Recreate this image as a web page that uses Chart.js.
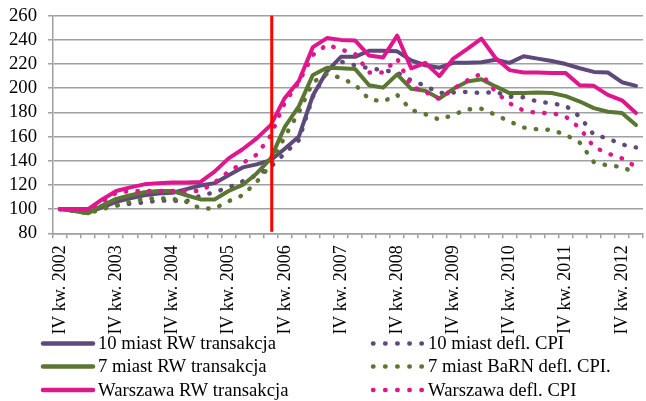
<!DOCTYPE html>
<html><head><meta charset="utf-8">
<script src="https://cdn.jsdelivr.net/npm/chart.js@4.4.0/dist/chart.umd.min.js"></script>
<style>html,body{margin:0;padding:0;background:#fff;}canvas{display:block;}</style>
</head><body>
<canvas id="c" width="646" height="401"></canvas>
<script>
const categories = [
  'IV kw. 2002',
  'I kw. 2003','II kw. 2003','III kw. 2003','IV kw. 2003',
  'I kw. 2004','II kw. 2004','III kw. 2004','IV kw. 2004',
  'I kw. 2005','II kw. 2005','III kw. 2005','IV kw. 2005',
  'I kw. 2006','II kw. 2006','III kw. 2006','IV kw. 2006',
  'I kw. 2007','II kw. 2007','III kw. 2007','IV kw. 2007',
  'I kw. 2008','II kw. 2008','III kw. 2008','IV kw. 2008',
  'I kw. 2009','II kw. 2009','III kw. 2009','IV kw. 2009',
  'I kw. 2010','II kw. 2010','III kw. 2010','IV kw. 2010',
  'I kw. 2011','II kw. 2011','III kw. 2011','IV kw. 2011',
  'I kw. 2012','II kw. 2012','III kw. 2012','IV kw. 2012',
  'I kw. 2013'
];
const shownTickPrefix = 'IV kw.';
const breakQuarter = 'III kw. 2006';

const miast10RW = [100, 99, 97, 101.5, 106, 109, 111.5, 113, 113.5, 116.5, 119.5, 121.5, 128, 134.5, 137, 140.5, 150, 160, 194, 214, 226, 226, 231, 231, 230.5, 223, 219, 217, 221, 221, 221.5, 223.5, 221, 226.5, 224.5, 222.5, 220, 216.5, 213.5, 213, 205, 202];
const miast10CPI = [100, 98.5, 97, 101, 103, 104.5, 105.5, 107, 107, 106.5, 111, 114, 118, 123, 128, 135, 146, 157, 193, 213.5, 222, 219, 216.5, 215, 213, 206.5, 202, 196, 196.5, 197, 196, 197, 193, 192.5, 189, 187.5, 185.5, 176.5, 161.5, 158.5, 153.5, 151];
const miast7RW = [100, 98.5, 96.5, 103, 108.5, 111.5, 114, 115, 115, 111.5, 108, 108, 115, 120, 129.5, 142, 168, 185, 211, 217, 216.5, 216, 202.5, 200.5, 211.5, 199.5, 198, 191.5, 199.5, 205.5, 207.5, 201.5, 196, 196, 196.5, 196, 193.5, 189, 183.5, 180.5, 179.5, 169.5];
const miast7CPI = [100, 98.5, 96.5, 100, 103, 106, 108.5, 109, 108.5, 106, 100.5, 100.5, 106.5, 111.5, 122.5, 136.5, 160, 180, 205, 212, 208.5, 203, 191, 189, 194.5, 182, 178.5, 174, 178, 182.5, 183, 178, 172.5, 167.5, 166, 165.5, 161.5, 155, 139, 136, 135, 129.5];
const warszawaRW = [100, 100, 100, 108, 115, 118, 120.5, 121.5, 122, 122, 122.5, 131, 142, 149.5, 158.5, 169.5, 192, 206, 234, 241.5, 240, 239.5, 227, 225.5, 243.5, 216.5, 221, 210, 224.5, 232.5, 241, 225, 215, 213, 213, 212.5, 212.5, 202.5, 202, 194.5, 190, 179.5];
const warszawaCPI = [100, 100, 100, 106, 113.5, 115, 115, 115, 115, 115, 115, 122, 131, 138, 145, 161, 188, 205, 227.5, 236, 232, 228.5, 213, 213, 224.5, 201.5, 197, 191, 199.5, 206.5, 212, 197, 187.5, 181.5, 179.5, 179.5, 176.5, 167, 151.5, 146, 142, 135];

const seriesNames = ['10 miast RW transakcja','10 miast defl. CPI','7 miast RW transakcja','7 miast BaRN defl. CPI.','Warszawa RW transakcja','Warszawa defl. CPI'];
const yTicks = [80, 100, 120, 140, 160, 180, 200, 220, 240, 260];

const PURPLE = '#5f497a', GREEN = '#5a7630', PINK = '#e0168f';
const DOT = [0.5, 11.2];
const FONT = 'Liberation Serif';
const FS = 18.7;
const FS_X = 18;

function solid(label, data, color, order){
  return {label, data, borderColor: color, backgroundColor: color, borderWidth: 4, pointRadius: 0,
    tension: 0, fill: false, borderJoinStyle: 'round', borderCapStyle: 'round', order};
}
function dotted(label, data, color, order){
  return {label, data, borderColor: color, backgroundColor: color, borderWidth: 4.4, pointRadius: 0,
    tension: 0, fill: false, borderDash: DOT, borderCapStyle: 'round', borderJoinStyle: 'round', order};
}

const datasets = [
  solid(seriesNames[0], miast10RW, PURPLE, 5),
  dotted(seriesNames[1], miast10CPI, PURPLE, 4),
  solid(seriesNames[2], miast7RW, GREEN, 3),
  dotted(seriesNames[3], miast7CPI, GREEN, 2),
  solid(seriesNames[4], warszawaRW, PINK, 1),
  dotted(seriesNames[5], warszawaCPI, PINK, 0)
];

const breakLine = {
  id: 'breakLine',
  afterDatasetsDraw(chart){
    const x = chart.scales.x.getPixelForValue(categories.indexOf(breakQuarter)) + 1;
    const y0 = chart.scales.y.getPixelForValue(yTicks[yTicks.length-1]);
    const y1 = chart.scales.y.getPixelForValue(yTicks[0]) - 1.5;
    const ctx = chart.ctx;
    ctx.save();
    ctx.strokeStyle = '#ff0000';
    ctx.lineWidth = 3;
    ctx.beginPath(); ctx.moveTo(x, y0); ctx.lineTo(x, y1); ctx.stroke();
    ctx.restore();
  }
};

const legendBox = {
  id: 'legendBox',
  afterDraw(chart){
    const ctx = chart.ctx;
    const colX = [43, 373], sampleW = 50, textGap = 5;
    const rowY = [343.5, 366.5, 390];
    ctx.save();
    chart.data.datasets.forEach((ds, i) => {
      const col = i % 2, row = Math.floor(i / 2);
      const x = colX[col], y = rowY[row];
      ctx.strokeStyle = ds.borderColor;
      ctx.lineWidth = ds.borderDash ? 4.4 : 4.5;
      ctx.lineCap = 'round';
      ctx.setLineDash(ds.borderDash ? [0.5, 11.6] : []);
      ctx.beginPath(); ctx.moveTo(x, y); ctx.lineTo(x + sampleW - (ds.borderDash ? 1 : 0), y); ctx.stroke();
      ctx.setLineDash([]);
      ctx.fillStyle = '#000';
      ctx.font = FS + 'px "' + FONT + '"';
      ctx.textBaseline = 'middle';
      ctx.textAlign = 'left';
      ctx.fillText(ds.label, x + sampleW + textGap, y + 1);
    });
    ctx.restore();
  }
};

Chart.defaults.font.family = FONT;
new Chart(document.getElementById('c'), {
  type: 'line',
  data: { labels: categories, datasets },
  options: {
    responsive: false,
    animation: false,
    devicePixelRatio: 1,
    layout: { padding: { top: 15.7, right: 3, left: 0, bottom: 62.7 } },
    plugins: { legend: { display: false }, tooltip: { enabled: false } },
    scales: {
      x: {
        type: 'category',
        offset: true,
        grid: { display: true, drawOnChartArea: false, drawTicks: true, tickLength: 5, color: '#a0a0a0', lineWidth: 1.5, offset: true },
        border: { display: true, color: '#a0a0a0', width: 1.5 },
        ticks: {
          autoSkip: false, maxRotation: 90, minRotation: 90, padding: 7,
          color: '#000', font: { family: FONT, size: FS_X },
          callback: function(v){ const l = this.getLabelForValue(v); return l.startsWith(shownTickPrefix) ? l : ''; }
        },
        afterFit: s => { s.height = 105; s.paddingLeft = 0; s.paddingRight = 0; }
      },
      y: {
        min: yTicks[0], max: yTicks[yTicks.length-1],
        afterBuildTicks: s => { s.ticks = yTicks.map(v => ({value: v})); },
        grid: { color: '#a0a0a0', lineWidth: 1.5, tickLength: 5, drawTicks: true },
        border: { display: true, color: '#a0a0a0', width: 1.5 },
        ticks: { autoSkip: false, color: '#000', font: { family: FONT, size: FS }, padding: 11 },
        afterFit: s => { s.width = 53; s.paddingTop = 0; s.paddingBottom = 0; }
      }
    }
  },
  plugins: [breakLine, legendBox]
});
</script>
</body></html>
